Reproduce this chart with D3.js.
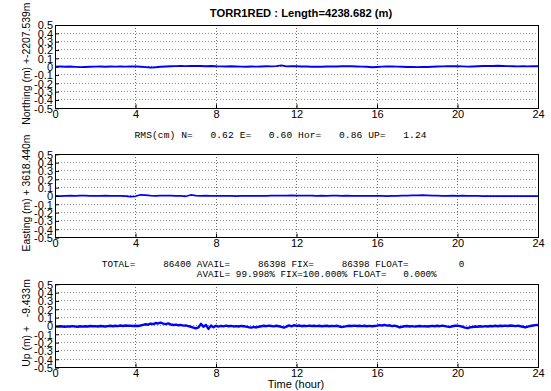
<!DOCTYPE html>
<html>
<head>
<meta charset="utf-8">
<script src="https://cdn.jsdelivr.net/npm/d3@7"></script>
<style>
  html, body { margin: 0; padding: 0; background: #fff; }
  svg { display: block; }
  text { white-space: pre; }
</style>
</head>
<body>
<script>
// Baseline TORR1 -> RED : 24 h of kinematic solution residuals (m)
const title = "TORR1RED : Length=4238.682 (m)";
const timeStep = 0.25;     // hours between samples for N / E
const upStep = 0.125;      // hours between samples for Up

const xTicks = [0, 4, 8, 12, 16, 20, 24];
const yTicks = [0.5, 0.4, 0.3, 0.2, 0.1, 0, -0.1, -0.2, -0.3, -0.4, -0.5];
const yTickLabels = ["0.5", "0.4", "0.3", "0.2", "0.1", "0", "-0.1", "-0.2", "-0.3", "-0.4", "-0.5"];

const northing = [
  0.000, 0.002, -0.002, 0.001, -0.003,
  -0.006, -0.004, -0.002, 0.000,
  0.002, -0.001, 0.001, 0.000,
  0.002, 0.000, 0.001, 0.003,
  -0.002, -0.006, -0.010, -0.008,
  -0.002, 0.002, 0.005, 0.006,
  0.008, 0.006, 0.009, 0.007,
  0.008, 0.005, 0.007, 0.004,
  0.003, 0.001, 0.004, 0.002,
  0.000, -0.002, 0.001, 0.000,
  0.002, 0.004, 0.003, 0.006,
  0.015, 0.003, 0.006, 0.004,
  0.002, 0.001, -0.001, 0.000,
  -0.002, 0.001, 0.003, 0.002,
  0.004, 0.006, 0.004, 0.002,
  0.000, -0.002, -0.008, -0.004,
  0.000, 0.003, 0.002, 0.000,
  -0.002, -0.004, -0.005, -0.006,
  -0.005, -0.004, -0.002, 0.001,
  0.003, 0.004, 0.006, 0.004,
  0.003, 0.000, 0.002, 0.004,
  0.007, 0.009, 0.008, 0.010,
  0.008, 0.006, 0.004, 0.003,
  0.004, 0.003, 0.005, 0.004
];

const easting = [
  0.000, -0.002, 0.001, 0.003, 0.002,
  0.004, 0.003, 0.002, 0.001,
  0.002, 0.003, 0.001, 0.000,
  0.001, -0.002, -0.008, -0.004,
  0.014, 0.010, 0.004, 0.002,
  0.003, 0.004, 0.003, 0.002,
  0.000, -0.004, 0.012, 0.004,
  0.002, 0.003, 0.001, 0.000,
  0.002, 0.001, 0.000, -0.001,
  0.000, 0.001, 0.002, 0.001,
  0.000, 0.002, 0.003, 0.004,
  0.005, 0.004, 0.006, 0.004,
  0.005, 0.003, 0.004, 0.002,
  0.003, 0.002, 0.004, 0.003,
  0.002, 0.003, 0.001, 0.002,
  0.001, 0.002, 0.000, 0.001,
  0.000, -0.001, 0.000, 0.002,
  0.003, 0.004, 0.006, 0.008,
  0.010, 0.007, 0.004, 0.003,
  0.002, 0.001, 0.003, 0.002,
  0.003, 0.002, 0.001, 0.001,
  -0.001, -0.001, -0.001, -0.001,
  -0.001, -0.001, -0.001, -0.001,
  -0.001, -0.001, -0.001, -0.001
];

const up = [
  -0.004, -0.008, -0.003, -0.006, -0.010, -0.005, -0.007, -0.002,
  -0.006, -0.009, -0.004, -0.008, -0.003, -0.006, -0.001, -0.004,
  -0.002, -0.006, 0.000, -0.003, -0.007, -0.002, 0.002, -0.003,
  0.003, -0.002, 0.005, 0.000, 0.006, 0.002, 0.004, -0.001,
  0.003, 0.000, 0.005, 0.012, 0.020, 0.015, 0.028, 0.022,
  0.035, 0.030, 0.040, 0.028, 0.022, 0.030, 0.018, 0.012,
  0.015, 0.008, 0.012, 0.004, 0.006, -0.002, -0.010, -0.020,
  -0.030, -0.018, 0.025, -0.010, 0.012, -0.035, 0.004, -0.015,
  0.002, -0.008, 0.000, -0.005, 0.003, -0.004, 0.001, -0.006,
  -0.002, -0.007, 0.000, -0.004, -0.008, -0.015, -0.020, -0.012,
  -0.018, -0.010, -0.004, 0.002, -0.003, 0.004, 0.000, -0.005,
  0.002, -0.004, -0.012, -0.020, -0.008, 0.006, -0.004, 0.008,
  0.000, 0.005, -0.003, 0.002, -0.002, 0.004, -0.001, 0.003,
  -0.002, 0.002, -0.004, 0.000, 0.003, -0.003, 0.001, -0.002,
  0.002, -0.006, -0.012, -0.008, -0.002, 0.003, -0.001, 0.004,
  0.000, 0.003, -0.002, 0.002, -0.003, 0.001, -0.004, 0.000,
  0.004, 0.010, 0.006, 0.012, 0.004, 0.008, -0.002, 0.003,
  -0.006, -0.018, -0.010, -0.004, 0.000, -0.006, -0.002, -0.008,
  -0.004, 0.000, -0.005, -0.002, -0.007, -0.003, 0.001, -0.004,
  0.002, -0.003, 0.004, -0.002, -0.008, -0.012, -0.004, 0.002,
  0.004, -0.002, -0.010, -0.020, -0.025, -0.016, -0.012, -0.006,
  -0.010, -0.004, -0.008, -0.002, -0.006, 0.000, -0.004, 0.002,
  -0.003, 0.003, -0.001, 0.004, 0.000, 0.005, 0.002, -0.002,
  0.003, -0.004, -0.010, -0.018, -0.008, 0.000, 0.006, 0.010,
  0.012
];

const yLabels = ["Northing (m) +-2207.539m", "Easting (m) + 3618.440m", "Up (m) +   -9.433m"];
const rmsLine = "RMS(cm) N=   0.62 E=   0.60 Hor=   0.86 UP=   1.24";
const countLine1 = "TOTAL=     86400 AVAIL=     86398 FIX=     86398 FLOAT=         0";
const countLine2 = "AVAIL= 99.998% FIX=100.000% FLOAT=   0.000%";
const xLabel = "Time (hour)";

const W = 551, H = 391;
const left = 55, right = 538;
const panelTops = [25, 154.3, 284.3];
const panelH = 83.3;

const svg = d3.select("body").append("svg").attr("width", W).attr("height", H);
const sans = "Arial, 'Liberation Sans', Helvetica, sans-serif";
const mono = "'Liberation Mono', 'Courier New', monospace";

const x = d3.scaleLinear().domain([0, 24]).range([left, right]);

const panels = [
  { values: northing, step: timeStep, width: 1.9 },
  { values: easting, step: timeStep, width: 1.7 },
  { values: up, step: upStep, width: 2.4 }
];

panels.forEach((p, i) => {
  const top = panelTops[i];
  const y = d3.scaleLinear().domain([-0.5, 0.5]).range([top + panelH, top]);
  const g = svg.append("g");

  // dotted grid
  g.append("g").selectAll("line").data(yTicks.slice(1, -1)).join("line")
    .attr("x1", left).attr("x2", right)
    .attr("y1", d => y(d)).attr("y2", d => y(d))
    .attr("stroke", "#8c8c8c").attr("stroke-width", 1)
    .attr("stroke-dasharray", "1,2").attr("shape-rendering", "crispEdges");
  g.append("g").selectAll("line").data(xTicks.slice(1, -1)).join("line")
    .attr("x1", d => x(d)).attr("x2", d => x(d))
    .attr("y1", top).attr("y2", top + panelH)
    .attr("stroke", "#6e6e6e").attr("stroke-width", 1)
    .attr("stroke-dasharray", "1,2").attr("shape-rendering", "crispEdges");

  // series
  const line = d3.line()
    .x((d, k) => x(k * p.step))
    .y(d => y(d));
  g.append("path").datum(p.values)
    .attr("d", line)
    .attr("fill", "none").attr("stroke", "#0000ff")
    .attr("stroke-width", p.width).attr("stroke-linejoin", "round");

  // axes
  const ax = g.append("g").attr("transform", `translate(0,${top + panelH})`)
    .call(d3.axisBottom(x).tickValues(xTicks).tickFormat(d3.format("d")).tickSizeInner(-4).tickSizeOuter(0).tickPadding(2));
  const ay = g.append("g").attr("transform", `translate(${left},0)`)
    .call(d3.axisLeft(y).tickValues(yTicks).tickFormat((d, k) => yTickLabels[k]).tickSizeInner(-4).tickSizeOuter(0).tickPadding(2));
  [ax, ay].forEach(a => {
    a.select(".domain").remove();
    a.selectAll("line").attr("stroke", "#000");
    a.selectAll("text").attr("font-family", sans).attr("font-size", 11).attr("fill", "#000");
  });
  ay.selectAll("text").attr("dy", "0.36em");

  // frame
  g.append("rect").attr("x", left).attr("y", top)
    .attr("width", right - left).attr("height", panelH)
    .attr("fill", "none").attr("stroke", "#000").attr("stroke-width", 1)
    .attr("shape-rendering", "crispEdges");

  // y label
  svg.append("text")
    .attr("transform", `translate(30,${top + panelH / 2 - 3}) rotate(-90)`)
    .attr("text-anchor", "middle")
    .attr("font-family", sans).attr("font-size", 10.4)
    .text(yLabels[i]);
});

svg.append("text").attr("x", 301).attr("y", 17)
  .attr("text-anchor", "middle").attr("font-family", sans)
  .attr("font-weight", "bold").attr("font-size", 11.2).text(title);

svg.append("text").attr("x", 134.5).attr("y", 138)
  .attr("font-family", mono).attr("font-size", 9.6)
  .attr("textLength", 292).attr("lengthAdjust", "spacing")
  .text(rmsLine);

svg.append("text").attr("x", 101.8).attr("y", 267)
  .attr("font-family", mono).attr("font-size", 9.3)
  .text(countLine1);
svg.append("text").attr("x", 196.8).attr("y", 277)
  .attr("font-family", mono).attr("font-size", 9.3)
  .text(countLine2);

svg.append("text").attr("x", 296).attr("y", 388)
  .attr("text-anchor", "middle").attr("font-family", sans)
  .attr("font-size", 11).text(xLabel);
</script>
</body>
</html>
